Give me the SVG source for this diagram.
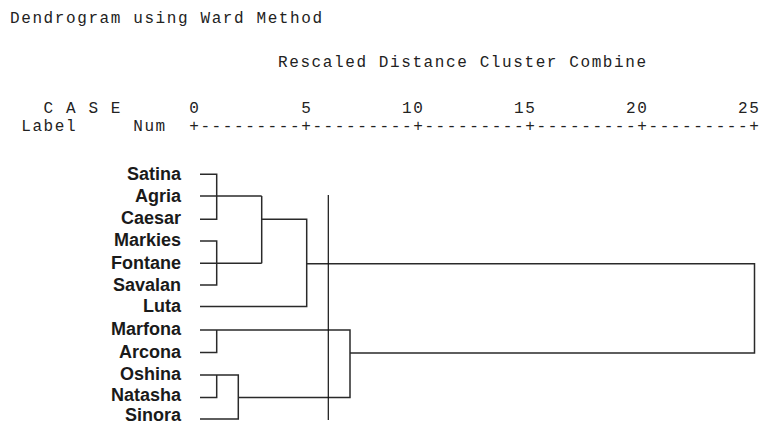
<svg xmlns="http://www.w3.org/2000/svg" width="763" height="425" viewBox="0 0 763 425">
<style>
.mono{font-family:"Liberation Mono","Courier New",monospace;font-size:16px;letter-spacing:1.6px;fill:#222;white-space:pre}
.lab{font-family:"Liberation Sans",Arial,sans-serif;font-size:18px;font-weight:bold;fill:#1a1a1a;text-anchor:end}
.ln{stroke:#2a2a2a;stroke-width:1.5;fill:none}
.cut{stroke:#111;stroke-width:1.2;fill:none}
</style>
<rect width="763" height="425" fill="#fff"/>
<g id="header">
<text class="mono" x="10" y="22.5">Dendrogram using Ward Method</text>
<text class="mono" x="278" y="66.5">Rescaled Distance Cluster Combine</text>
<text class="mono" x="43.6" y="113">C A S E</text>
<text class="mono" x="189.2" y="113">0</text>
<text class="mono" x="301.2" y="113">5</text>
<text class="mono" x="402" y="113">10</text>
<text class="mono" x="514" y="113">15</text>
<text class="mono" x="626" y="113">20</text>
<text class="mono" x="738" y="113">25</text>
<text class="mono" x="21.2" y="131">Label</text>
<text class="mono" x="133.2" y="131">Num</text>
<text class="mono" x="189.2" y="131">+---------+---------+---------+---------+---------+</text>
</g>
<g id="labels">
<g id="n-satina"><text class="lab" x="181" y="179.5">Satina</text></g>
<g id="n-agria"><text class="lab" x="181" y="201.5">Agria</text></g>
<g id="n-caesar"><text class="lab" x="181" y="224">Caesar</text></g>
<g id="n-markies"><text class="lab" x="181" y="246">Markies</text></g>
<g id="n-fontane"><text class="lab" x="181" y="268.5">Fontane</text></g>
<g id="n-savalan"><text class="lab" x="181" y="290.5">Savalan</text></g>
<g id="n-luta"><text class="lab" x="181" y="312">Luta</text></g>
<g id="n-marfona"><text class="lab" x="181" y="335">Marfona</text></g>
<g id="n-arcona"><text class="lab" x="181" y="357.5">Arcona</text></g>
<g id="n-oshina"><text class="lab" x="181" y="379.5">Oshina</text></g>
<g id="n-natasha"><text class="lab" x="181" y="400.5">Natasha</text></g>
<g id="n-sinora"><text class="lab" x="181" y="421">Sinora</text></g>
</g>
<g id="connectors">
<path class="ln" d="M200 174.3H216.7V219.3H200"/>
<path class="ln" d="M200 196H261.7"/>
<path class="ln" d="M200 241H216.7V285H200"/>
<path class="ln" d="M200 263.3H261.7"/>
<path class="ln" d="M261.7 196V263.3"/>
<path class="ln" d="M261.7 219.3H306.7V306.5H200"/>
<path class="ln" d="M306.7 263.8H754.5V353H350"/>
<path class="ln" d="M200 330H350V397.5H238.3"/>
<path class="ln" d="M200 352.5H216.7V330"/>
<path class="ln" d="M200 375H238.3V419H200"/>
<path class="ln" d="M200 397.5H216.7V375"/>
<path class="cut" d="M328.3 195V420"/>
</g>
</svg>
